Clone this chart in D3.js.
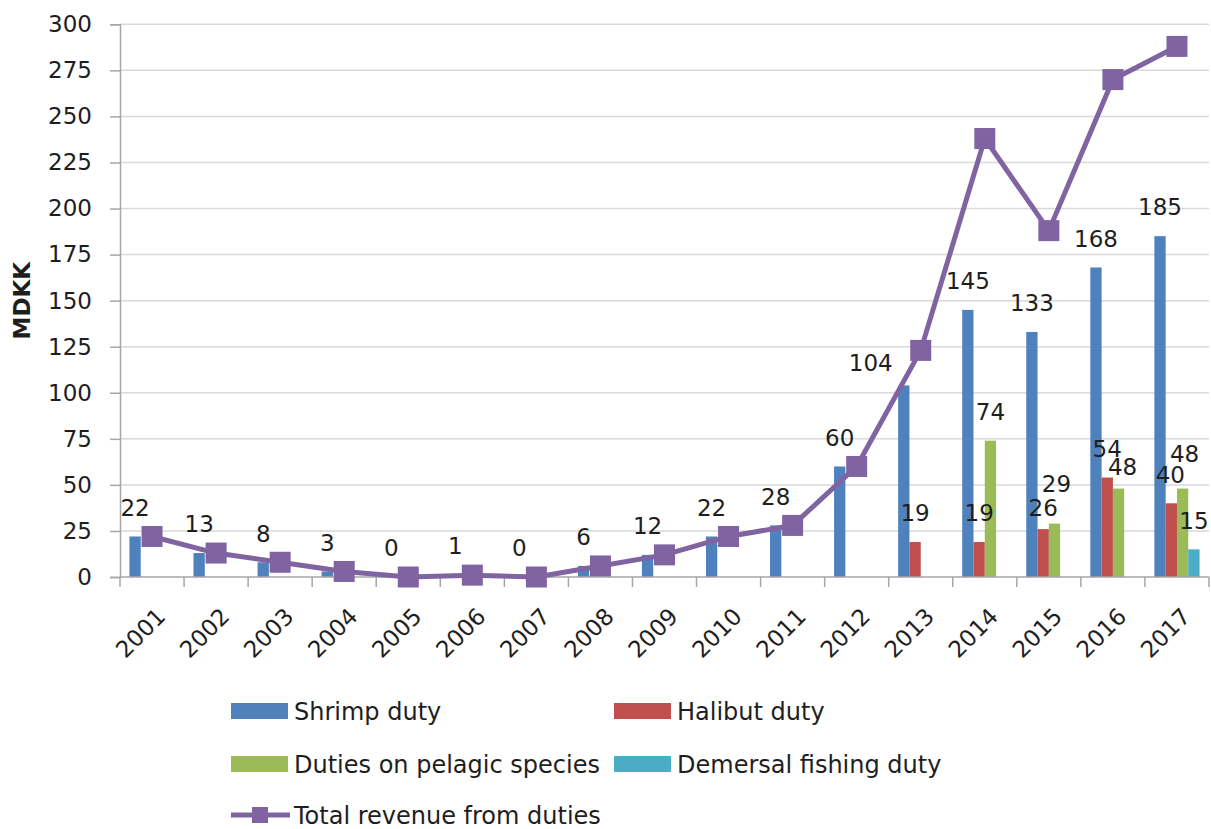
<!DOCTYPE html>
<html>
<head>
<meta charset="utf-8">
<script src="https://cdn.jsdelivr.net/npm/d3@7/dist/d3.min.js"></script>
<style>
  html, body { margin: 0; padding: 0; background: #ffffff; }
  svg { display: block; }
  text { font-family: "DejaVu Sans", sans-serif; fill: #1e1e1e; }
</style>
</head>
<body>
<svg id="chart" width="1211" height="829"></svg>
<script>
// Fishing duty revenue, million DKK
const years = ["2001","2002","2003","2004","2005","2006","2007","2008","2009",
               "2010","2011","2012","2013","2014","2015","2016","2017"];
const shrimpDuty   = [22, 13, 8, 3, 0, 1, 0, 6, 12, 22, 28, 60, 104, 145, 133, 168, 185];
const halibutDuty  = [null, null, null, null, null, null, null, null, null, null, null, null, 19, 19, 26, 54, 40];
const pelagicDuty  = [null, null, null, null, null, null, null, null, null, null, null, null, null, 74, 29, 48, 48];
const demersalDuty = [null, null, null, null, null, null, null, null, null, null, null, null, null, null, null, null, 15];
const totalRevenue = [22, 13, 8, 3, 0, 1, 0, 6, 12, 22, 28, 60, 123, 238, 188, 270, 288];
const yTicks = [0, 25, 50, 75, 100, 125, 150, 175, 200, 225, 250, 275, 300];

const barSeries = [
  { key: "shrimp",   name: "Shrimp duty",                values: shrimpDuty,   color: "#4f81bd" },
  { key: "halibut",  name: "Halibut duty",               values: halibutDuty,  color: "#c0504d" },
  { key: "pelagic",  name: "Duties on pelagic species",  values: pelagicDuty,  color: "#9bbb59" },
  { key: "demersal", name: "Demersal fishing duty",      values: demersalDuty, color: "#4bacc6" }
];
const lineSeries = { name: "Total revenue from duties", values: totalRevenue, color: "#8064a2" };

const svg = d3.select("#chart");
const plot = { left: 120, right: 1209, top: 24.3, bottom: 577 };
const fs = 23;

const x = d3.scaleBand().domain(years).range([plot.left, plot.right]).padding(0);
const xInner = d3.scaleBand().domain(barSeries.map(s => s.key))
  .range([0, x.bandwidth()]).paddingInner(0).paddingOuter(0.835);
const y = d3.scaleLinear().domain([0, 300]).range([plot.bottom, plot.top]);

// horizontal gridlines
svg.append("g").selectAll("line").data(yTicks.filter(t => t > 0)).join("line")
  .attr("x1", plot.left).attr("x2", plot.right)
  .attr("y1", d => y(d)).attr("y2", d => y(d))
  .attr("stroke", "#d9d9d9").attr("stroke-width", 1.5);

// bars
const barG = svg.append("g");
barSeries.forEach(s => {
  barG.append("g").selectAll("rect")
    .data(years.map((yr, i) => ({ yr, v: s.values[i] })).filter(d => d.v !== null))
    .join("rect")
    .attr("x", d => x(d.yr) + xInner(s.key))
    .attr("width", xInner.bandwidth())
    .attr("y", d => y(d.v))
    .attr("height", d => y(0) - y(d.v))
    .attr("fill", s.color);
});

// y axis
const yAxis = d3.axisLeft(y).tickValues(yTicks).tickSize(10).tickPadding(18);
const yg = svg.append("g").attr("transform", `translate(${plot.left},0)`).call(yAxis);
yg.select(".domain").attr("stroke", "#a6a6a6").attr("stroke-width", 1.5);
yg.selectAll(".tick line").attr("stroke", "#a6a6a6").attr("stroke-width", 1.5);
yg.selectAll(".tick text").attr("font-size", fs).attr("font-family", "DejaVu Sans").attr("fill", "#1e1e1e");

// x axis: ticks sit between categories
const xAxisG = svg.append("g");
xAxisG.append("line")
  .attr("x1", plot.left).attr("x2", plot.right)
  .attr("y1", y(0)).attr("y2", y(0))
  .attr("stroke", "#a6a6a6").attr("stroke-width", 1.5);
const boundaries = years.map(yr => x(yr)).concat([x(years[years.length - 1]) + x.bandwidth()]);
xAxisG.selectAll("line.tk").data(boundaries).join("line").attr("class", "tk")
  .attr("x1", d => d).attr("x2", d => d)
  .attr("y1", y(0)).attr("y2", y(0) + 10)
  .attr("stroke", "#a6a6a6").attr("stroke-width", 1.5);
xAxisG.selectAll("text").data(years).join("text")
  .attr("transform", d => `translate(${x(d) + x.bandwidth() / 2 + 9},${y(0) + 35}) rotate(-45)`)
  .attr("text-anchor", "end").attr("dy", "0.36em")
  .attr("font-size", fs)
  .text(d => d);

// y axis title
svg.append("text")
  .attr("transform", `translate(30,${(plot.top + plot.bottom) / 2}) rotate(-90)`)
  .attr("text-anchor", "middle")
  .attr("font-size", fs).attr("font-weight", "bold")
  .text("MDKK");

// total revenue line with square markers
const cx = yr => x(yr) + x.bandwidth() / 2;
const line = d3.line().x((d, i) => cx(years[i])).y(d => y(d));
svg.append("path").datum(lineSeries.values)
  .attr("d", line).attr("fill", "none")
  .attr("stroke", lineSeries.color).attr("stroke-width", 5)
  .attr("stroke-linejoin", "round");
const mk = 21;
svg.append("g").selectAll("rect").data(lineSeries.values).join("rect")
  .attr("x", (d, i) => cx(years[i]) - mk / 2)
  .attr("y", d => y(d) - mk / 2)
  .attr("width", mk).attr("height", mk)
  .attr("fill", lineSeries.color);

// value labels above the bars; a few are shifted off crowded spots
const labelShift = {
  "shrimp-2013": [-33, 6],
  "halibut-2015": [0, 8],
  "halibut-2017": [-1, 0],
  "pelagic-2015": [2, -11],
  "pelagic-2016": [4, 7],
  "pelagic-2017": [2, -6]
};
const labelG = svg.append("g");
barSeries.forEach(s => {
  years.forEach((yr, i) => {
    const v = s.values[i];
    if (v === null) return;
    const sh = labelShift[`${s.key}-${yr}`] || [0, 0];
    labelG.append("text")
      .attr("x", x(yr) + xInner(s.key) + xInner.bandwidth() / 2 + sh[0])
      .attr("y", y(v) - 29 + sh[1])
      .attr("dy", "0.36em")
      .attr("text-anchor", "middle")
      .attr("font-size", fs)
      .text(v);
  });
});

// legend
const legendItems = [
  { s: barSeries[0], lx: 231, ly: 711 },
  { s: barSeries[1], lx: 614, ly: 711 },
  { s: barSeries[2], lx: 231, ly: 764 },
  { s: barSeries[3], lx: 614, ly: 764 }
];
const lg = svg.append("g");
legendItems.forEach(it => {
  lg.append("rect").attr("x", it.lx).attr("y", it.ly - 8)
    .attr("width", 57).attr("height", 16).attr("fill", it.s.color);
  lg.append("text").attr("x", it.lx + 63).attr("y", it.ly).attr("dy", "0.36em")
    .attr("font-size", 24).text(it.s.name);
});
const ly3 = 815;
lg.append("line").attr("x1", 231).attr("x2", 290).attr("y1", ly3).attr("y2", ly3)
  .attr("stroke", lineSeries.color).attr("stroke-width", 5);
lg.append("rect").attr("x", 252).attr("y", ly3 - 8).attr("width", 16).attr("height", 16)
  .attr("fill", lineSeries.color);
lg.append("text").attr("x", 294).attr("y", ly3).attr("dy", "0.36em")
  .attr("font-size", 24).text(lineSeries.name);
</script>
</body>
</html>
